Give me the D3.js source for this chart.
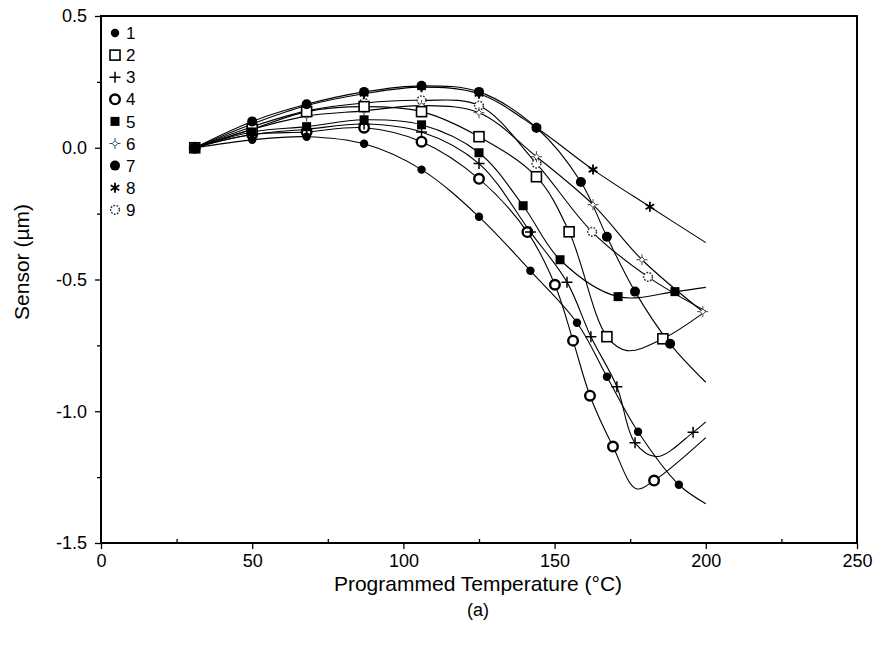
<!DOCTYPE html>
<html>
<head>
<meta charset="utf-8">
<script src="https://cdn.jsdelivr.net/npm/d3@7"></script>
<style>
  body { margin: 0; background: #fff; }
  text { font-family: "Liberation Sans", Arial, sans-serif; fill: #000; }
</style>
</head>
<body>
<div id="chartDiv"></div>
<script>
// marker points: [temperature, sensor]
var s1 = [[31,0],[50,0.03],[68,0.042],[87,0.015],[106,-0.083],[125,-0.262],[142,-0.467],[157.4,-0.664],[167.3,-0.869],[177.6,-1.078],[191.1,-1.279]];
var s2 = [[31,0],[50,0.07],[68,0.137],[87,0.156],[106,0.137],[125,0.042],[144,-0.11],[154.8,-0.319],[167.3,-0.717],[185.8,-0.725]];
var s3 = [[31,0],[50,0.05],[68,0.07],[87,0.09],[106,0.06],[125,-0.06],[142,-0.32],[154.1,-0.51],[162,-0.717],[170.6,-0.907],[176.6,-1.12],[195.8,-1.08]];
var s4 = [[31,0],[50,0.05],[68,0.06],[87,0.076],[106,0.023],[125,-0.118],[141,-0.32],[150.1,-0.52],[156.1,-0.732],[161.7,-0.941],[169.3,-1.134],[182.9,-1.263]];
var s5 = [[31,0],[50,0.06],[68,0.08],[87,0.106],[106,0.087],[125,-0.019],[139.6,-0.22],[151.8,-0.425],[171,-0.565],[189.8,-0.546]];
var s6 = [[31,0],[50,0.07],[68,0.12],[87,0.14],[106,0.16],[125,0.133],[144,-0.034],[162.7,-0.216],[178.9,-0.425],[199,-0.622]];
var s7 = [[31,0],[50,0.1],[68,0.165],[87,0.212],[106,0.235],[125,0.212],[144,0.076],[158.7,-0.13],[167.3,-0.338],[176.6,-0.546],[188.2,-0.744]];
var s8 = [[31,0],[50,0.09],[68,0.16],[87,0.205],[106,0.23],[125,0.205],[144,0.076],[162.7,-0.083],[181.5,-0.224]];
var s9 = [[31,0],[50,0.08],[68,0.14],[87,0.17],[106,0.18],[125,0.16],[144,-0.06],[162.4,-0.319],[180.9,-0.49]];

// points the curves pass through with no marker drawn (ends and turning points)
var e1 = [[200,-1.351]];
var e2 = [[174,-0.77],[200,-0.62]];
var e3 = [[183.9,-1.172],[200,-1.04]];
var e4 = [[177,-1.294],[200,-1.10]];
var e5 = [[200,-0.53]];
var e6 = [];
var e7 = [[200,-0.89]];
var e8 = [[200,-0.36]];
var e9 = [[200,-0.62]];

var seriesNames = ["1","2","3","4","5","6","7","8","9"];
var xTicks = [0, 50, 100, 150, 200, 250];
var xMinor = [25, 75, 125, 175, 225];
var yTicks = [0.5, 0.0, -0.5, -1.0, -1.5];
var yMinor = [0.25, -0.25, -0.75, -1.25];

var marks = [s1, s2, s3, s4, s5, s6, s7, s8, s9];
var extras = [e1, e2, e3, e4, e5, e6, e7, e8, e9];
// order the marker layers are painted in (series 5 ends up on top at the start point)
var drawOrder = [8, 7, 5, 3, 2, 1, 0, 6, 4];

var width = 879, height = 647;
var svg = d3.select("#chartDiv").append("svg")
    .attr("width", width)
    .attr("height", height);

var x = d3.scaleLinear().domain([0, 250]).range([101, 857]);
var y = d3.scaleLinear().domain([-1.5, 0.5]).range([543, 16]);

function fmt(d) { return d3.format(".1f")(d).replace("\u2212", "-"); }

// axes
svg.append("g")
    .attr("transform", "translate(0," + y(-1.5) + ")")
    .call(d3.axisBottom(x).tickValues(xTicks).tickSize(6).tickSizeOuter(0).tickPadding(5));
svg.append("g")
    .attr("transform", "translate(0," + y(-1.5) + ")")
    .call(d3.axisBottom(x).tickValues(xMinor).tickSize(-4).tickFormat("").tickSizeOuter(0));
svg.append("g")
    .attr("transform", "translate(" + x(0) + ",0)")
    .call(d3.axisLeft(y).tickValues(yTicks).tickSize(6).tickSizeOuter(0).tickPadding(8).tickFormat(fmt));
svg.append("g")
    .attr("transform", "translate(" + x(0) + ",0)")
    .call(d3.axisLeft(y).tickValues(yMinor).tickSize(4).tickFormat("").tickSizeOuter(0));

svg.selectAll(".domain").remove();
svg.selectAll(".tick line").attr("stroke", "#000").attr("stroke-width", 1.3);
svg.selectAll(".tick text").style("font-size", "18px").attr("fill", "#000");

// frame
svg.append("rect")
    .attr("x", x(0)).attr("y", y(0.5))
    .attr("width", x(250) - x(0)).attr("height", y(-1.5) - y(0.5))
    .attr("fill", "none").attr("stroke", "#000").attr("stroke-width", 2);

// curves
var line = d3.line()
    .x(function(d) { return x(d[0]); })
    .y(function(d) { return y(d[1]); })
    .curve(d3.curveCatmullRom.alpha(0.5));

marks.forEach(function(pts, i) {
    var all = pts.concat(extras[i]).sort(function(a, b) { return a[0] - b[0]; });
    svg.append("path")
        .datum(all)
        .attr("d", line)
        .attr("fill", "none")
        .attr("stroke", "#000")
        .attr("stroke-width", 1.1);
});

// marker shapes
function drawMarker(g, k) {
    if (k == 0) {
        g.append("circle").attr("r", 4.2).attr("fill", "#000");
    } else if (k == 1) {
        g.append("rect").attr("x", -5).attr("y", -5).attr("width", 10).attr("height", 10)
            .attr("fill", "#fff").attr("stroke", "#000").attr("stroke-width", 1.6);
    } else if (k == 2) {
        g.append("path").attr("d", "M-5.5,0H5.5M0,-5.5V5.5").attr("stroke", "#000").attr("stroke-width", 1.5);
    } else if (k == 3) {
        g.append("circle").attr("r", 4.8).attr("fill", "#fff").attr("stroke", "#000").attr("stroke-width", 2.4);
    } else if (k == 4) {
        g.append("rect").attr("x", -4.5).attr("y", -4.5).attr("width", 9).attr("height", 9).attr("fill", "#000");
    } else if (k == 5) {
        g.append("path").attr("d", "M0,-2.8L2.8,0L0,2.8L-2.8,0Z").attr("fill", "#fff")
            .attr("stroke", "#444").attr("stroke-width", 1);
        g.append("path").attr("d", "M0,-5.5V-2.8M0,2.8V5.5M-5.5,0H-2.8M2.8,0H5.5").attr("stroke", "#444").attr("stroke-width", 1);
    } else if (k == 6) {
        g.append("circle").attr("r", 5).attr("fill", "#000");
    } else if (k == 7) {
        g.append("path").attr("d", "M0,-5V5M-4.3,-2.5L4.3,2.5M-4.3,2.5L4.3,-2.5")
            .attr("stroke", "#000").attr("stroke-width", 1.8);
    } else {
        g.append("circle").attr("r", 4.4).attr("fill", "#fff").attr("stroke", "#333")
            .attr("stroke-width", 1.5).attr("stroke-dasharray", "1.7,1.4");
    }
}

drawOrder.forEach(function(i) {
    svg.append("g").selectAll("g")
        .data(marks[i])
        .enter()
        .append("g")
        .attr("transform", function(d) { return "translate(" + x(d[0]) + "," + y(d[1]) + ")"; })
        .each(function() { drawMarker(d3.select(this), i); });
});

// legend
seriesNames.forEach(function(name, i) {
    var ly = 33 + i * 22.1;
    drawMarker(svg.append("g").attr("transform", "translate(115," + ly + ")"), i);
    svg.append("text")
        .attr("x", 126).attr("y", ly)
        .attr("dy", "0.36em")
        .style("font-size", "17px")
        .text(name);
});

// axis titles
svg.append("text")
    .attr("text-anchor", "middle")
    .attr("x", 478).attr("y", 591)
    .style("font-size", "21px")
    .text("Programmed Temperature (°C)");

svg.append("text")
    .attr("text-anchor", "middle")
    .attr("transform", "rotate(-90)")
    .attr("x", -262).attr("y", 29)
    .style("font-size", "21px")
    .text("Sensor (µm)");

svg.append("text")
    .attr("text-anchor", "middle")
    .attr("x", 478).attr("y", 616)
    .style("font-size", "18px")
    .text("(a)");
</script>
</body>
</html>
